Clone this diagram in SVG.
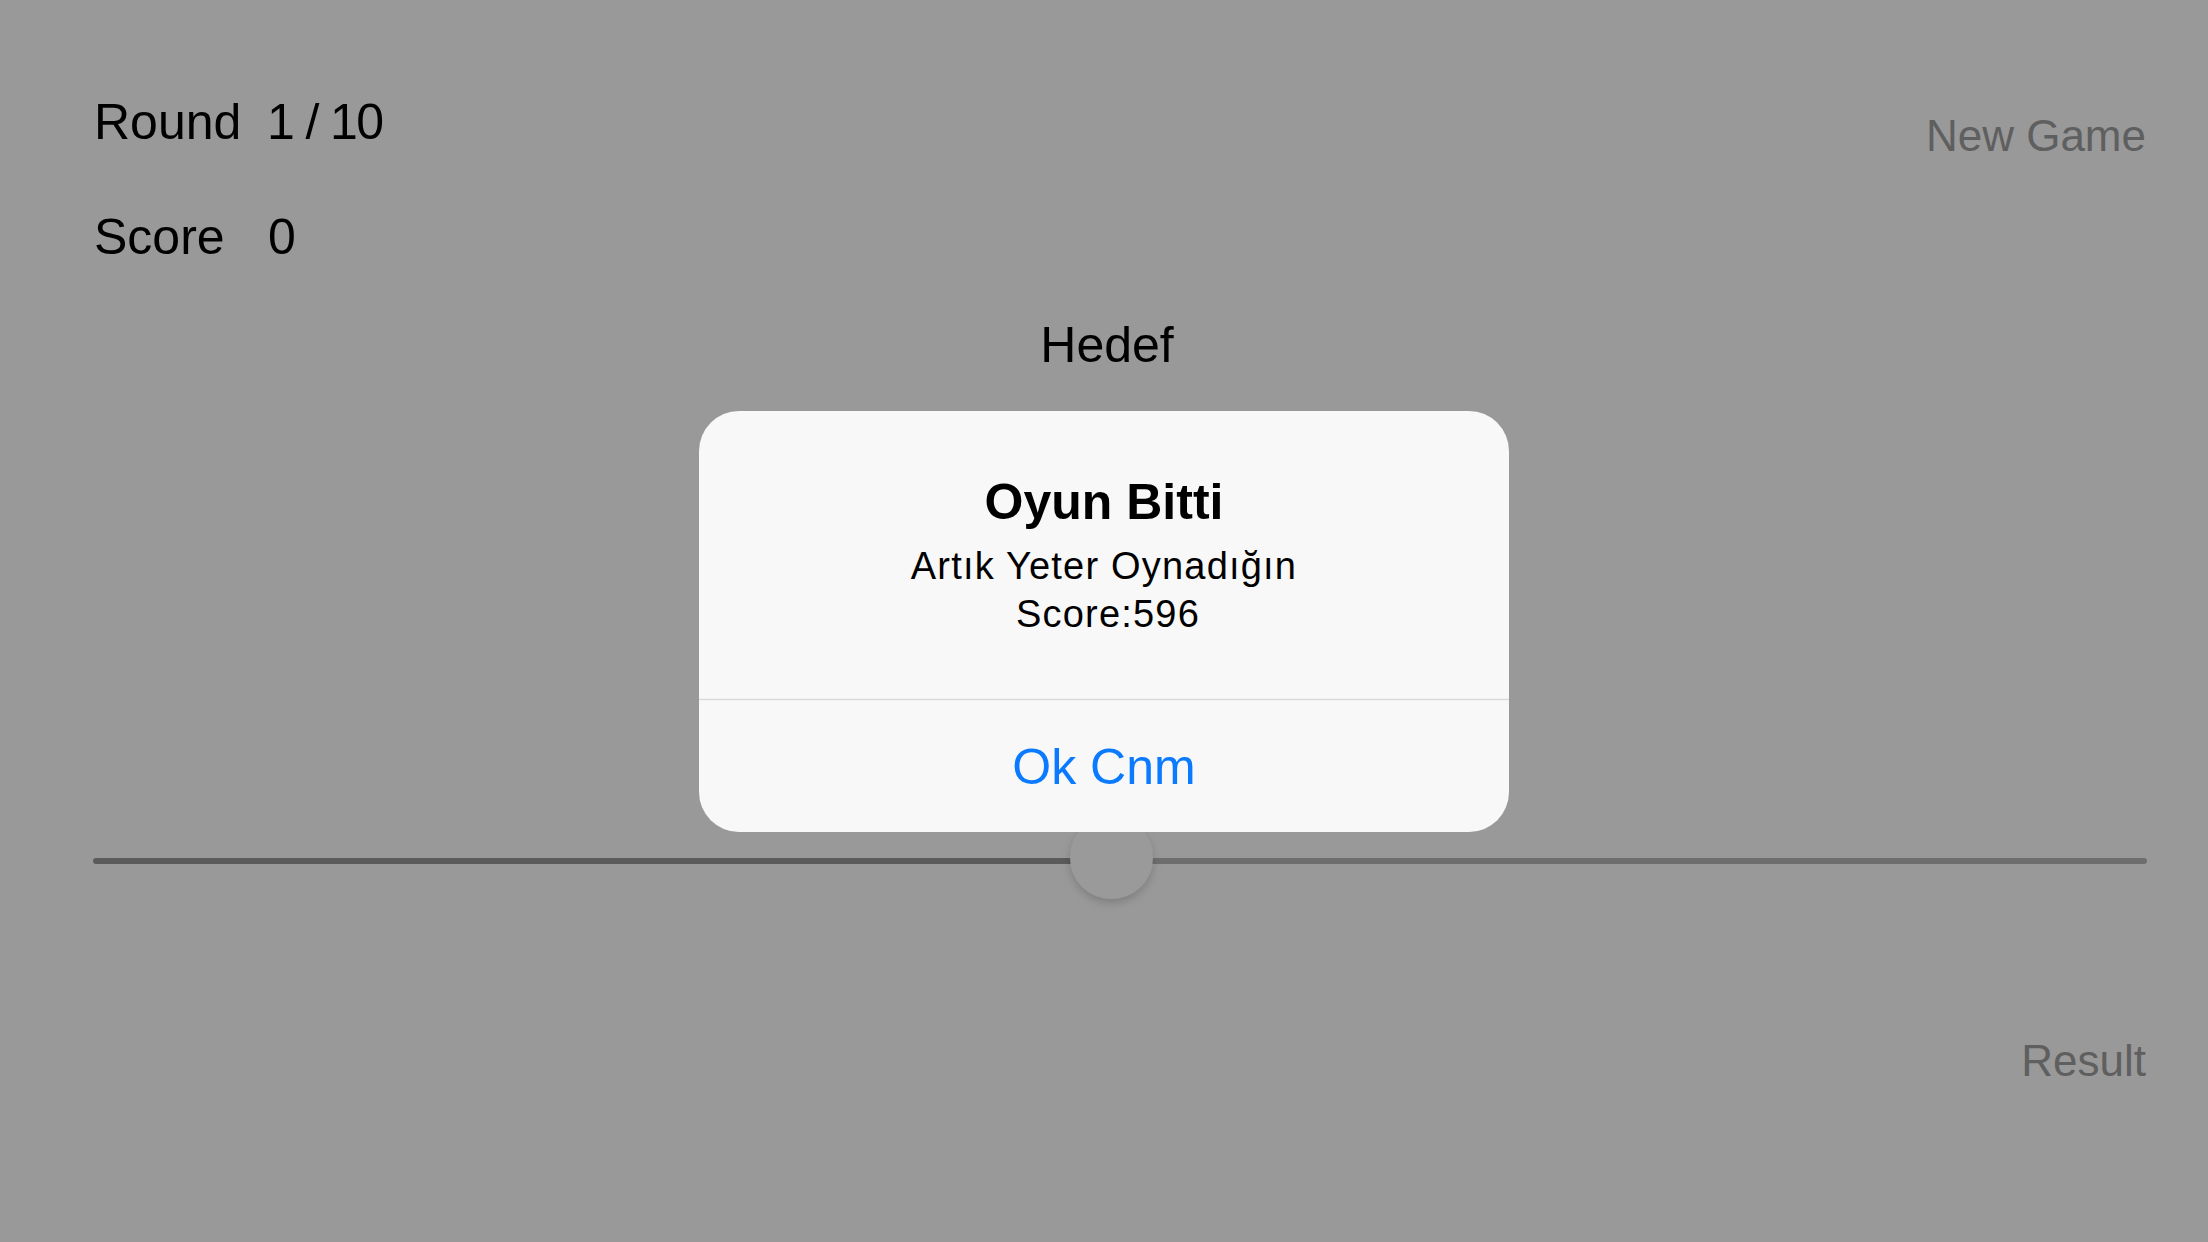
<svg xmlns="http://www.w3.org/2000/svg" width="2208" height="1242" viewBox="0 0 2208 1242">
<style>
.lbl{font-family:"Liberation Sans",Arial,sans-serif;font-size:50px;fill:#000}
.btn{font-family:"Liberation Sans",Arial,sans-serif;font-size:44px;fill:#5f5f5f}
.ttl{font-family:"Liberation Sans",Arial,sans-serif;font-size:50px;font-weight:bold;fill:#000}
.msg{font-family:"Liberation Sans",Arial,sans-serif;font-size:38px;letter-spacing:1.2px;fill:#000}
.act{font-family:"Liberation Sans",Arial,sans-serif;font-size:50px;fill:#0a7aff}
</style>
<defs>
<filter id="sh" x="-30%" y="-30%" width="160%" height="170%">
<feDropShadow dx="0" dy="4" stdDeviation="4" flood-color="#000" flood-opacity="0.18"/>
</filter>
</defs>
<rect id="background" x="0" y="0" width="2208" height="1242" fill="#999999"/>
<g id="round">
<text class="lbl" x="94" y="139">Round</text>
<text class="lbl" x="267" y="139" letter-spacing="-1.6">1 / 10</text>
</g>
<g id="score">
<text class="lbl" x="94" y="254">Score</text>
<text class="lbl" x="268" y="254">0</text>
</g>
<g id="new-game"><text class="btn" x="2146" y="151" text-anchor="end">New Game</text></g>
<g id="hedef"><text class="lbl" x="1107" y="362" text-anchor="middle">Hedef</text></g>
<g id="slider">
<line x1="96" y1="861" x2="1111" y2="861" stroke="#5b5b5b" stroke-width="6" stroke-linecap="round"/>
<line x1="1111" y1="861" x2="2144" y2="861" stroke="#6e6e6e" stroke-width="6" stroke-linecap="round"/>
<circle cx="1111.5" cy="857.5" r="41.5" fill="#9a9a9a" filter="url(#sh)"/>
</g>
<g id="result"><text class="btn" x="2146" y="1076" text-anchor="end">Result</text></g>
<g id="alert">
<rect x="699" y="411" width="810" height="421" rx="40" ry="40" fill="#f8f8f8"/>
<line x1="699" y1="699.5" x2="1509" y2="699.5" stroke="#dadada" stroke-width="1.5"/>
<text class="ttl" x="1104" y="519" text-anchor="middle">Oyun Bitti</text>
<text class="msg" x="1104" y="579" text-anchor="middle">Artık Yeter Oynadığın</text>
<text class="msg" x="1108" y="627" text-anchor="middle">Score:596</text>
<text class="act" x="1104" y="784" text-anchor="middle">Ok Cnm</text>
</g>
</svg>
